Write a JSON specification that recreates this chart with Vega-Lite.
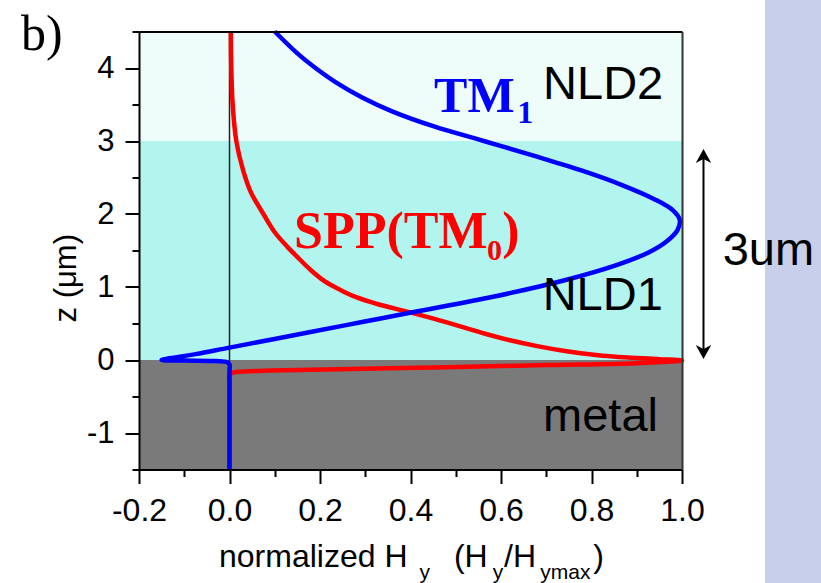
{
  "$schema": "https://vega.github.io/schema/vega-lite/v6.json",
  "width": 543,
  "height": 438,
  "autosize": {"type": "none"},
  "padding": {"left": 139, "top": 31.5, "right": 139, "bottom": 113.5},
  "background": "white",
  "config": {"view": {"stroke": null}, "axis": {"grid": false}},
  "resolve": {"axis": {"x": "independent", "y": "independent"}},
  "layer": [
    {
      "data": {"values": [
        {"region": "metal", "z1": -1.5, "z2": 0},
        {"region": "NLD1", "z1": 0, "z2": 3},
        {"region": "NLD2", "z1": 3, "z2": 4.5}
      ]},
      "mark": {"type": "rect"},
      "encoding": {
        "x": {"datum": -0.2, "type": "quantitative",
          "scale": {"domain": [-0.2, 1.0], "nice": false, "zero": false},
          "axis": {"orient": "bottom", "values": [-0.2, 0, 0.2, 0.4, 0.6, 0.8, 1.0], "format": ".1f",
            "labelExpr": "replace(datum.label, '−', '-')", "title": null,
            "labelFont": "Liberation Sans", "labelFontSize": 32, "labelColor": "black", "labelPadding": 12,
            "tickSize": 14, "tickWidth": 2, "tickColor": "black", "domainColor": "black", "domainWidth": 2,
            "grid": false, "zindex": 2, "labelFlush": false, "labelOverlap": false, "labelBound": false}},
        "x2": {"datum": 1.0},
        "y": {"field": "z1", "type": "quantitative",
          "scale": {"domain": [-1.5, 4.5], "nice": false, "zero": false},
          "axis": {"orient": "left", "values": [-1, 0, 1, 2, 3, 4], "format": "d",
            "labelExpr": "replace(datum.label, '−', '-')", "title": null,
            "labelFont": "Liberation Sans", "labelFontSize": 31, "labelColor": "black", "labelPadding": 11,
            "tickSize": 14, "tickWidth": 2, "tickColor": "black", "domainColor": "black", "domainWidth": 2,
            "grid": false, "zindex": 2, "labelFlush": false, "labelOverlap": false, "labelBound": false}},
        "y2": {"field": "z2"},
        "color": {"field": "region", "type": "nominal",
          "scale": {"domain": ["metal", "NLD1", "NLD2"], "range": ["#7a7a7a", "#b2f5ef", "#effdfa"]},
          "legend": null}
      }
    },
    {
      "data": {"values": [{}]},
      "mark": {"type": "rect", "fill": "#c8cfea"},
      "encoding": {
        "x": {"datum": 1.1834, "type": "quantitative", "axis": null},
        "x2": {"datum": 1.33},
        "y": {"datum": -3.3, "type": "quantitative", "axis": null},
        "y2": {"datum": 5.1}
      }
    },
    {
      "data": {"values": [{}]},
      "mark": {"type": "rule", "color": "#222222", "strokeWidth": 1.5},
      "encoding": {"x": {"datum": 0, "type": "quantitative", "axis": null}}
    },
    {
      "data": {"values": [
        {"i": 0, "z": 4.5, "x": 0.003}, {"i": 1, "z": 4.0, "x": 0.004}, {"i": 2, "z": 3.5, "x": 0.007},
        {"i": 3, "z": 3.0, "x": 0.015}, {"i": 4, "z": 2.6, "x": 0.03}, {"i": 5, "z": 2.3, "x": 0.047},
        {"i": 6, "z": 2.0, "x": 0.075}, {"i": 7, "z": 1.75, "x": 0.1}, {"i": 8, "z": 1.55, "x": 0.128},
        {"i": 9, "z": 1.38, "x": 0.155}, {"i": 10, "z": 1.23, "x": 0.18}, {"i": 11, "z": 1.08, "x": 0.21},
        {"i": 12, "z": 0.96, "x": 0.245}, {"i": 13, "z": 0.86, "x": 0.28}, {"i": 14, "z": 0.76, "x": 0.33},
        {"i": 15, "z": 0.66, "x": 0.395}, {"i": 16, "z": 0.56, "x": 0.455}, {"i": 17, "z": 0.46, "x": 0.51},
        {"i": 18, "z": 0.36, "x": 0.565}, {"i": 19, "z": 0.27, "x": 0.62}, {"i": 20, "z": 0.19, "x": 0.68},
        {"i": 21, "z": 0.12, "x": 0.745}, {"i": 22, "z": 0.07, "x": 0.81}, {"i": 23, "z": 0.035, "x": 0.88},
        {"i": 24, "z": 0.012, "x": 0.95}, {"i": 25, "z": -0.005, "x": 1.0}, {"i": 26, "z": -0.045, "x": 0.9},
        {"i": 27, "z": -0.07, "x": 0.7}, {"i": 28, "z": -0.098, "x": 0.48}, {"i": 29, "z": -0.127, "x": 0.24},
        {"i": 30, "z": -0.15, "x": 0.06}, {"i": 31, "z": -0.17, "x": 0.01}, {"i": 32, "z": -0.2, "x": 0.0},
        {"i": 33, "z": -0.3, "x": 0.0}, {"i": 34, "z": -0.6, "x": 0.0}, {"i": 35, "z": -1.0, "x": 0.0},
        {"i": 36, "z": -1.5, "x": 0.0}
      ]},
      "mark": {"type": "line", "color": "#ff0000", "strokeWidth": 4.5, "strokeJoin": "round", "interpolate": "catmull-rom"},
      "encoding": {
        "x": {"field": "x", "type": "quantitative", "axis": null},
        "y": {"field": "z", "type": "quantitative", "axis": null},
        "order": {"field": "i", "type": "quantitative"}
      }
    },
    {
      "data": {"values": [
        {"i": 0, "z": 4.5, "x": 0.10}, {"i": 1, "z": 4.2, "x": 0.15}, {"i": 2, "z": 4.0, "x": 0.19},
        {"i": 3, "z": 3.8, "x": 0.236}, {"i": 4, "z": 3.6, "x": 0.292}, {"i": 5, "z": 3.4, "x": 0.362},
        {"i": 6, "z": 3.2, "x": 0.452}, {"i": 7, "z": 3.0, "x": 0.562}, {"i": 8, "z": 2.8, "x": 0.672},
        {"i": 9, "z": 2.6, "x": 0.776}, {"i": 10, "z": 2.4, "x": 0.866}, {"i": 11, "z": 2.2, "x": 0.94},
        {"i": 12, "z": 2.05, "x": 0.98}, {"i": 13, "z": 1.92, "x": 0.995}, {"i": 14, "z": 1.78, "x": 0.99},
        {"i": 15, "z": 1.62, "x": 0.965}, {"i": 16, "z": 1.47, "x": 0.925}, {"i": 17, "z": 1.3, "x": 0.855},
        {"i": 18, "z": 1.1, "x": 0.745}, {"i": 19, "z": 0.87, "x": 0.585}, {"i": 20, "z": 0.66, "x": 0.41},
        {"i": 21, "z": 0.52, "x": 0.293}, {"i": 22, "z": 0.38, "x": 0.176}, {"i": 23, "z": 0.17, "x": 0.0},
        {"i": 24, "z": 0.08, "x": -0.075}, {"i": 25, "z": 0.0, "x": -0.15}, {"i": 26, "z": -0.008, "x": -0.1},
        {"i": 27, "z": -0.015, "x": -0.03}, {"i": 28, "z": -0.03, "x": -0.005}, {"i": 29, "z": -0.06, "x": 0.0},
        {"i": 30, "z": -0.15, "x": 0.0}, {"i": 31, "z": -0.4, "x": 0.0}, {"i": 32, "z": -0.9, "x": 0.0},
        {"i": 33, "z": -1.5, "x": 0.0}
      ]},
      "mark": {"type": "line", "color": "#0000ff", "strokeWidth": 4.5, "strokeJoin": "round", "interpolate": "catmull-rom"},
      "encoding": {
        "x": {"field": "x", "type": "quantitative", "axis": null},
        "y": {"field": "z", "type": "quantitative", "axis": null},
        "order": {"field": "i", "type": "quantitative"}
      }
    },
    {
      "data": {"values": [{}]},
      "mark": {"type": "rule", "color": "black", "strokeWidth": 2},
      "encoding": {
        "x": {"datum": 1.0475, "type": "quantitative", "axis": null},
        "y": {"datum": 0.05, "type": "quantitative", "axis": null},
        "y2": {"datum": 2.85}
      }
    },
    {
      "data": {"values": [{}]},
      "mark": {"type": "point", "shape": "M0,0L-1,1.8L0,1.3L1,1.8Z", "filled": true, "color": "black", "opacity": 1, "size": 240, "strokeWidth": 0},
      "encoding": {
        "x": {"datum": 1.0475, "type": "quantitative", "axis": null},
        "y": {"datum": 2.89, "type": "quantitative", "axis": null}
      }
    },
    {
      "data": {"values": [{}]},
      "mark": {"type": "point", "shape": "M0,0L-1,-1.8L0,-1.3L1,-1.8Z", "filled": true, "color": "black", "opacity": 1, "size": 240, "strokeWidth": 0},
      "encoding": {
        "x": {"datum": 1.0475, "type": "quantitative", "axis": null},
        "y": {"datum": 0.014, "type": "quantitative", "axis": null}
      }
    },
    {
      "data": {"values": [
        {"t": "NLD2", "x": 0.693, "z": 3.575},
        {"t": "NLD1", "x": 0.692, "z": 0.685},
        {"t": "metal", "x": 0.693, "z": -0.973},
        {"t": "3um", "x": 1.09, "z": 1.30}
      ]},
      "mark": {"type": "text", "font": "Liberation Sans", "fontSize": 47, "color": "black", "align": "left", "baseline": "alphabetic"},
      "encoding": {
        "x": {"field": "x", "type": "quantitative", "axis": null},
        "y": {"field": "z", "type": "quantitative", "axis": null},
        "text": {"field": "t"}
      }
    },
    {
      "data": {"values": [
        {"t": "SPP(TM", "x": 0.1425, "z": 1.534},
        {"t": ")", "x": 0.6025, "z": 1.534}
      ]},
      "mark": {"type": "text", "font": "Liberation Serif", "fontSize": 52, "fontWeight": "bold", "color": "#ff0000", "align": "left", "baseline": "alphabetic"},
      "encoding": {
        "x": {"field": "x", "type": "quantitative", "axis": null},
        "y": {"field": "z", "type": "quantitative", "axis": null},
        "text": {"field": "t"}
      }
    },
    {
      "data": {"values": [{"t": "0", "x": 0.569, "z": 1.37}]},
      "mark": {"type": "text", "font": "Liberation Serif", "fontSize": 30, "fontWeight": "bold", "color": "#ff0000", "align": "left", "baseline": "alphabetic"},
      "encoding": {
        "x": {"field": "x", "type": "quantitative", "axis": null},
        "y": {"field": "z", "type": "quantitative", "axis": null},
        "text": {"field": "t"}
      }
    },
    {
      "data": {"values": [{"t": "TM", "x": 0.452, "z": 3.40}]},
      "mark": {"type": "text", "font": "Liberation Serif", "fontSize": 50, "fontWeight": "bold", "color": "#0000ff", "align": "left", "baseline": "alphabetic"},
      "encoding": {
        "x": {"field": "x", "type": "quantitative", "axis": null},
        "y": {"field": "z", "type": "quantitative", "axis": null},
        "text": {"field": "t"}
      }
    },
    {
      "data": {"values": [{"t": "1", "x": 0.636, "z": 3.25}]},
      "mark": {"type": "text", "font": "Liberation Serif", "fontSize": 32, "fontWeight": "bold", "color": "#0000ff", "align": "left", "baseline": "alphabetic"},
      "encoding": {
        "x": {"field": "x", "type": "quantitative", "axis": null},
        "y": {"field": "z", "type": "quantitative", "axis": null},
        "text": {"field": "t"}
      }
    },
    {
      "data": {"values": [{"t": "b)", "x": -0.461, "z": 4.247}]},
      "mark": {"type": "text", "font": "Liberation Serif", "fontSize": 50, "color": "black", "align": "left", "baseline": "alphabetic"},
      "encoding": {
        "x": {"field": "x", "type": "quantitative", "axis": null},
        "y": {"field": "z", "type": "quantitative", "axis": null},
        "text": {"field": "t"}
      }
    },
    {
      "data": {"values": [{"t": "z (μm)", "x": -0.359, "z": 1.12}]},
      "mark": {"type": "text", "font": "Liberation Sans", "fontSize": 31, "color": "black", "align": "center", "baseline": "middle", "angle": 270},
      "encoding": {
        "x": {"field": "x", "type": "quantitative", "axis": null},
        "y": {"field": "z", "type": "quantitative", "axis": null},
        "text": {"field": "t"}
      }
    },
    {
      "data": {"values": [
        {"t": "normalized H", "x": -0.0232, "z": -2.836},
        {"t": "(H", "x": 0.496, "z": -2.836},
        {"t": "/H", "x": 0.6066, "z": -2.836},
        {"t": ")", "x": 0.804, "z": -2.836}
      ]},
      "mark": {"type": "text", "font": "Liberation Sans", "fontSize": 32, "color": "black", "align": "left", "baseline": "alphabetic"},
      "encoding": {
        "x": {"field": "x", "type": "quantitative", "axis": null},
        "y": {"field": "z", "type": "quantitative", "axis": null},
        "text": {"field": "t"}
      }
    },
    {
      "data": {"values": [
        {"t": "y", "x": 0.42, "z": -3.0},
        {"t": "y", "x": 0.582, "z": -3.0},
        {"t": "ymax", "x": 0.687, "z": -3.0}
      ]},
      "mark": {"type": "text", "font": "Liberation Sans", "fontSize": 21, "color": "black", "align": "left", "baseline": "alphabetic"},
      "encoding": {
        "x": {"field": "x", "type": "quantitative", "axis": null},
        "y": {"field": "z", "type": "quantitative", "axis": null},
        "text": {"field": "t"}
      }
    },
    {
      "data": {"values": [{}]},
      "mark": {"type": "point", "opacity": 0},
      "encoding": {
        "x": {"datum": 0.5, "type": "quantitative",
          "axis": {"orient": "bottom", "values": [-0.1, 0.1, 0.3, 0.5, 0.7, 0.9], "labels": false, "title": null,
            "tickSize": 7, "tickWidth": 2, "tickColor": "black", "domain": false, "grid": false, "zindex": 2}},
        "y": {"datum": 1, "type": "quantitative",
          "axis": {"orient": "left", "values": [-1.5, -0.5, 0.5, 1.5, 2.5, 3.5, 4.5], "labels": false, "title": null,
            "tickSize": 7, "tickWidth": 2, "tickColor": "black", "domain": false, "grid": false, "zindex": 2}}
      }
    },
    {
      "data": {"values": [{}]},
      "mark": {"type": "point", "opacity": 0},
      "encoding": {
        "x": {"datum": 0.5, "type": "quantitative",
          "axis": {"orient": "top", "labels": false, "ticks": false, "title": null,
            "domain": true, "domainColor": "black", "domainWidth": 2, "grid": false, "zindex": 2}},
        "y": {"datum": 1, "type": "quantitative",
          "axis": {"orient": "right", "labels": false, "ticks": false, "title": null,
            "domain": true, "domainColor": "#333333", "domainWidth": 2, "grid": false, "zindex": 2}}
      }
    }
  ]
}
